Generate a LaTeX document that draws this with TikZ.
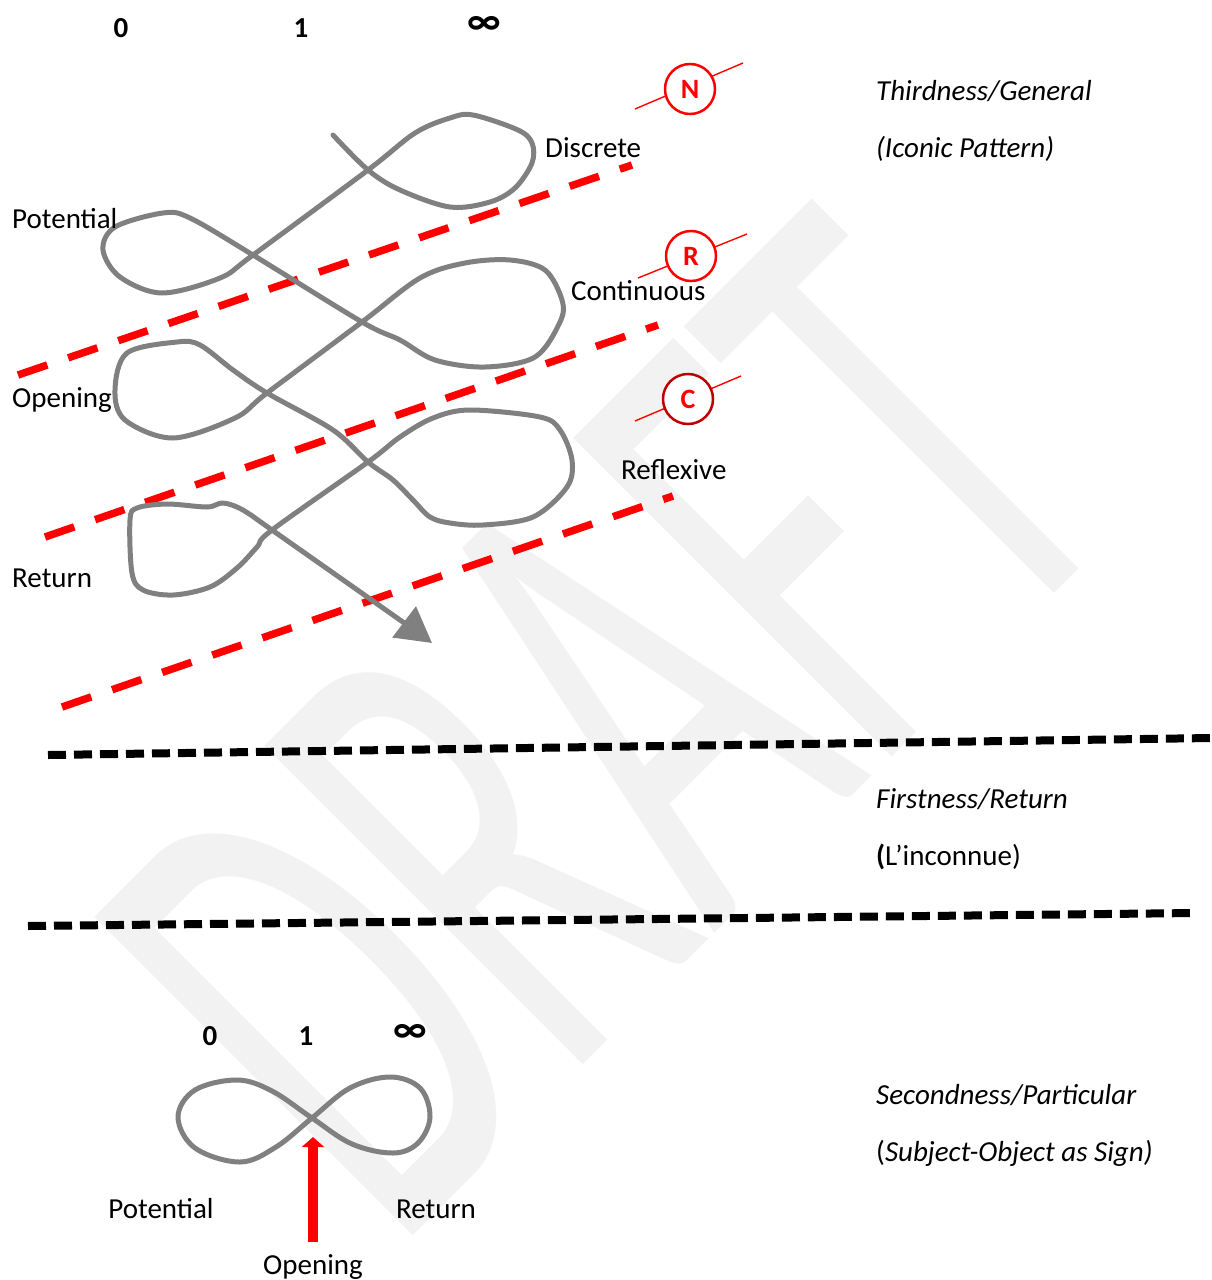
\documentclass[tikz,border=0pt]{standalone}
\usepackage{fontspec}
\setmainfont{Carlito}
\usetikzlibrary{arrows.meta}
\definecolor{loopgray}{HTML}{808080}
\definecolor{wmgray}{HTML}{F2F2F2}
\definecolor{cred}{HTML}{C00000}
\tikzset{
  lbl/.style={anchor=west, inner sep=0pt, text height=19pt, text depth=0pt, font=\fontsize{29}{35}\selectfont},
  ilbl/.style={lbl, font=\fontsize{29}{35}\selectfont\itshape},
  clbl/.style={inner sep=0pt, text height=19pt, text depth=0pt, font=\fontsize{29}{35}\selectfont},
  num/.style={inner sep=0pt, font=\fontsize{29}{35}\selectfont\bfseries},
  infsym/.style={inner sep=0pt, font=\fontsize{40}{44}\selectfont\bfseries},
  loopline/.style={draw=loopgray, line width=5pt, line cap=round, line join=round},
  reddash/.style={draw=red, line width=7.5pt, dash pattern=on 31pt off 22pt},
  blackdash/.style={draw=black, line width=8pt, dash pattern=on 18pt off 8pt},
  markcirc/.style={circle, draw=red, fill=white, line width=2.5pt, minimum size=50pt, inner sep=0pt, text=red, font=\fontsize{28}{34}\selectfont\bfseries},
  markline/.style={draw=red, line width=1.4pt},
}
\begin{document}
\begin{tikzpicture}[x=1pt,y=-1pt]
\useasboundingbox (0,0) rectangle (1211,1280);
% watermark
\begin{scope}
\clip (0,0) rectangle (1211,1280);
\node[rotate=45, text=wmgray, inner sep=0pt] (wm) at (605,725) {\scalebox{1}[1.8]{\fontsize{390}{390}\selectfont DRAFT}};
\end{scope}

% top scale numbers
\node[num] (t0) at (121,28) {0};
\node[num] (t1) at (301,28) {1};
\node[infsym] (tinf) at (484,25) {∞};

% red dashed lines
\coordinate (r1a) at (18,375);  \coordinate (r1b) at (632,165);
\coordinate (r2a) at (45,537);  \coordinate (r2b) at (658,325);
\coordinate (r3a) at (62,707);  \coordinate (r3b) at (673,496);
\draw[reddash] (r1a) -- (r1b);
\draw[reddash] (r2a) -- (r2b);
\draw[reddash] (r3a) -- (r3b);

% black dashed lines
\coordinate (b1a) at (48,755);  \coordinate (b1b) at (1211,738);
\coordinate (b2a) at (28,926);  \coordinate (b2b) at (1195,913);
\draw[blackdash] (b1a) -- (b1b);
\draw[blackdash] (b2a) -- (b2b);

% markers N R C
\coordinate (nA) at (635,109); \coordinate (nB) at (743,63);
\coordinate (rA) at (638,278); \coordinate (rB) at (747,234);
\coordinate (cA) at (635,421); \coordinate (cB) at (741,376);
\draw[markline] (nA) -- (nB);
\draw[markline] (rA) -- (rB);
\draw[markline] (cA) -- (cB);
\node[markcirc] (mN) at (690,89) {N};
\node[markcirc] (mR) at (691,256) {R};
\node[markcirc, draw=cred] (mC) at (688,399) {C};

% looping line with arrow
\draw[loopline, -{Triangle[length=35pt,width=38pt]}] plot[smooth, tension=0.55] coordinates {
(333,135) (368,170) (400,190) (450,207) (490,202) (515,188) (532,163) (532,143) (518,130)
(473,115) (450,118) (415,133) (368,170) (253,255) (220,278) (162,293) (120,277) (103,250)
(115,227) (163,213) (190,218) (253,255) (362,322) (400,340) (435,360) (485,367) (535,357)
(560,322) (562,300) (545,270) (510,260) (465,263) (420,278) (362,322) (267,393) (235,418)
(173,438) (125,420) (115,390) (127,353) (177,342) (200,345) (233,370) (267,393) (333,430)
(368,462) (393,480) (413,500) (430,517) (450,523) (483,525) (533,517) (567,487) (572,460)
(560,430) (540,417) (470,410) (433,418) (400,437) (368,462) (272,530) (257,547) (237,568)
(210,587) (173,595) (143,590) (132,573) (130,520) (137,508) (167,504) (207,507) (223,503)
(243,510) (272,530) (400,620) (432,643)};

% labels of the upper figure
\node[lbl] (lDis) at (545,148) {Discrete};
\node[lbl] (lPot) at (12,219) {Potential};
\node[lbl] (lCon) at (571,291) {Continuous};
\node[lbl] (lOpe) at (12,398) {Opening};
\node[lbl] (lRef) at (621,470) {Reflexive};
\node[lbl] (lRet) at (12,578) {Return};

% right-hand labels
\node[ilbl] (third) at (876,91) {Thirdness/General};
\node[ilbl] (iconic) at (876,148) {(Iconic Pattern)};
\node[ilbl] (first) at (876,799) {Firstness/Return};
\node[lbl] (inconnue) at (876,856) {\textbf{(}L’inconnue)};
\node[ilbl] (second) at (876,1095) {Secondness/Particular};
\node[lbl] (subj) at (876,1152) {(\textit{Subject-Object as Sign)}};

% bottom figure
\node[num] (s0) at (210,1036) {0};
\node[num] (s1) at (306,1036) {1};
\node[infsym] (sinf) at (410,1033) {∞};
\draw[loopline] plot[smooth cycle, tension=0.6] coordinates {
(312,1118) (350,1088) (390,1077) (420,1088) (430,1117) (418,1143) (393,1153) (352,1144)
(312,1118) (272,1091) (237,1080) (195,1090) (178,1117) (195,1148) (240,1162) (276,1147)};
\coordinate (oA) at (313,1242);
\coordinate (oB) at (313,1137);
\draw[draw=red, line width=10pt, -{Triangle[length=10pt,width=22pt]}] (oA) -- (oB);
\node[clbl] (bPot) at (161,1209) {Potential};
\node[clbl] (bRet) at (436,1209) {Return};
\node[clbl] (bOpe) at (313,1265) {Opening};
\end{tikzpicture}
\end{document}
